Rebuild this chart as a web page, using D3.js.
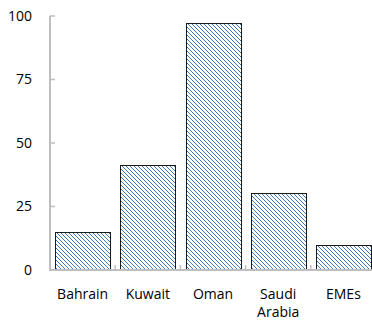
<!DOCTYPE html>
<html>
<head>
<meta charset="utf-8">
<script src="https://cdn.jsdelivr.net/npm/d3@7"></script>
<style>
  body { margin: 0; background: #fff; }
  text { font-family: "Open Sans", "Noto Sans", sans-serif; font-size: 14px; fill: #000; }
</style>
</head>
<body>
<div id="chart"></div>
<script>
var categories = [["Bahrain"], ["Kuwait"], ["Oman"], ["Saudi", "Arabia"], ["EMEs"]];
var values = [15, 41.3, 97.2, 30.3, 9.8];
var yTicks = [0, 25, 50, 75, 100];

var width = 372, height = 324;
var margin = { top: 16, right: 0, bottom: 54, left: 50 };

var svg = d3.select("#chart").append("svg")
	.attr("width", width)
	.attr("height", height);

// hatch pattern
var pat = svg.append("defs").append("pattern")
	.attr("id", "hatch")
	.attr("patternUnits", "userSpaceOnUse")
	.attr("width", 4)
	.attr("height", 4);
pat.append("rect").attr("width", 4).attr("height", 4).attr("fill", "#fff");
[0, 1, 2, 3].forEach(function(i) {
	pat.append("rect")
		.attr("x", i).attr("y", i)
		.attr("width", 1).attr("height", 1)
		.attr("fill", "#3c78b8");
});

var x = d3.scaleBand()
	.domain(d3.range(categories.length))
	.range([margin.left, 376])
	.paddingInner(0.16)
	.paddingOuter(0.08);

var y = d3.scaleLinear()
	.domain([0, 100])
	.range([height - margin.bottom, margin.top]);

var g = svg.append("g");

g.selectAll(".bar")
	.data(values)
	.enter()
	.append("rect")
	.attr("class", "bar")
	.attr("x", function(d, i) { return Math.round(x(i)) + 0.5; })
	.attr("y", function(d) { return Math.round(y(d)) + 0.5; })
	.attr("width", Math.round(x.bandwidth()))
	.attr("height", function(d) { return Math.round(y(0)) - Math.round(y(d)); })
	.attr("fill", "url(#hatch)")
	.attr("stroke", "#1a1a1a")
	.attr("stroke-width", 1);

// y axis
var yAxis = svg.append("g");
yAxis.append("line")
	.attr("x1", margin.left).attr("x2", margin.left)
	.attr("y1", y(100)).attr("y2", y(0) + 1)
	.attr("stroke", "#bfbfbf").attr("stroke-width", 2);
yAxis.selectAll(".tick")
	.data(yTicks)
	.enter()
	.append("line")
	.attr("x1", margin.left).attr("x2", margin.left + 5)
	.attr("y1", function(d) { return y(d); })
	.attr("y2", function(d) { return y(d); })
	.attr("stroke", "#bfbfbf").attr("stroke-width", 1.5);
yAxis.selectAll(".lab")
	.data(yTicks)
	.enter()
	.append("text")
	.attr("x", 32)
	.attr("y", function(d) { return y(d); })
	.attr("dy", "0.35em")
	.attr("text-anchor", "end")
	.text(function(d) { return d; });

// x axis
var xAxis = svg.append("g");
xAxis.append("line")
	.attr("x1", margin.left - 1).attr("x2", width)
	.attr("y1", y(0)).attr("y2", y(0))
	.attr("stroke", "#bfbfbf").attr("stroke-width", 2);
xAxis.selectAll(".tick")
	.data(d3.range(categories.length))
	.enter()
	.append("line")
	.attr("x1", function(i) { return x(i) + x.bandwidth() + x.step() * x.paddingInner() / 2; })
	.attr("x2", function(i) { return x(i) + x.bandwidth() + x.step() * x.paddingInner() / 2; })
	.attr("y1", y(0) - 5).attr("y2", y(0))
	.attr("stroke", "#bfbfbf").attr("stroke-width", 1.5);

xAxis.selectAll(".lab")
	.data(categories)
	.enter()
	.append("text")
	.attr("text-anchor", "middle")
	.attr("transform", function(d, i) {
		return "translate(" + (x(i) + x.bandwidth() / 2) + "," + 299 + ")";
	})
	.each(function(d) {
		var t = d3.select(this);
		d.forEach(function(line, k) {
			t.append("tspan").attr("x", 0).attr("dy", k === 0 ? 0 : 18).text(line);
		});
	});
</script>
</body>
</html>
